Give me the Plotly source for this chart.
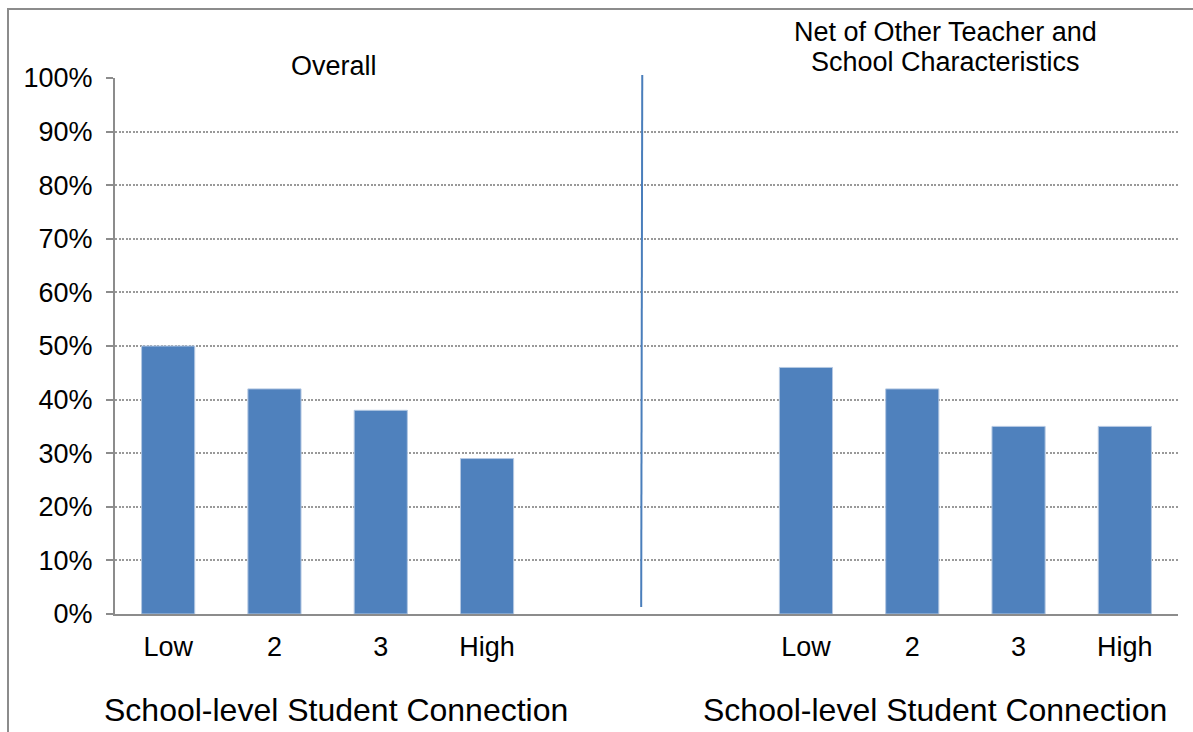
import plotly.graph_objects as go

# Share of teachers, by school-level student connection quartile
levels = ["Low", "2", "3", "High"]
overall = [50, 42, 38, 29]
net_of_other = [46, 42, 35, 35]

overall_title = "Overall"
net_title_lines = ["Net of Other Teacher and", "School Characteristics"]
axis_title = "School-level Student Connection"

y_ticks = list(range(0, 101, 10))
y_tick_text = [f"{v}%" for v in y_ticks]

# slot positions along the category axis: two panels of four, two empty slots between
left_slots = list(range(len(levels)))
right_start = len(levels) + 2
right_slots = [right_start + i for i in range(len(levels))]
n_slots = right_start + len(levels)

bar_color = "#4F81BD"
grid_color = "#8C8C8C"
font_family = "Liberation Sans, Arial, sans-serif"

fig = go.Figure()
for xs, ys in ((left_slots, overall), (right_slots, net_of_other)):
    fig.add_trace(go.Bar(
        x=xs, y=ys, width=0.5,
        marker=dict(color=bar_color, line=dict(color="#B4C8E2", width=1)),
        showlegend=False, hoverinfo="skip",
    ))

# plot-area geometry in pixels (used to place text in paper coordinates)
W, H = 1193, 732
L, R, T, B = 115, 15, 78, 118
pw, ph = W - L - R, H - T - B


def px_x(px):
    return (px - L) / pw


def px_y(py):
    return (H - B - py) / ph


fig.update_layout(
    width=W, height=H,
    margin=dict(l=L, r=R, t=T, b=B),
    paper_bgcolor="white", plot_bgcolor="white",
    font=dict(family=font_family, size=27, color="black"),
    xaxis=dict(
        range=[-0.5, n_slots - 0.5],
        tickvals=left_slots + right_slots,
        ticktext=levels + levels,
        ticks="", showgrid=False, zeroline=False,
        showline=True, linecolor=grid_color, linewidth=2,
        ticklabelstandoff=8,
        tickfont=dict(size=27),
    ),
    yaxis=dict(
        range=[0, 100],
        tickvals=y_ticks, ticktext=y_tick_text,
        ticks="outside", ticklen=7, tickcolor=grid_color, tickwidth=2,
        showline=True, linecolor=grid_color, linewidth=2,
        showgrid=True, gridcolor="#999999", gridwidth=1.5, griddash="2px,1.5px",
        zeroline=False,
        ticklabelstandoff=8,
        tickfont=dict(size=27),
    ),
    bargap=0.5,
)

# panel titles
fig.add_annotation(text=overall_title, xref="paper", yref="paper",
                   x=px_x(334), y=px_y(66), showarrow=False,
                   font=dict(size=27), xanchor="center", yanchor="middle")
for line, cy in zip(net_title_lines, (32, 62)):
    fig.add_annotation(text=line, xref="paper", yref="paper",
                       x=px_x(945), y=px_y(cy), showarrow=False,
                       font=dict(size=27), xanchor="center", yanchor="middle")

# axis titles under each panel
for cx in (336, 935):
    fig.add_annotation(text=axis_title, xref="paper", yref="paper",
                       x=px_x(cx), y=px_y(710), showarrow=False,
                       font=dict(size=32), xanchor="center", yanchor="middle")

# vertical divider between the two panels
div_x = (left_slots[-1] + right_slots[0]) / 2 - 0.05
fig.add_shape(type="line", xref="x", yref="paper",
              x0=div_x, x1=div_x + 0.01, y0=px_y(607), y1=px_y(75),
              line=dict(color="#4A7EBB", width=2))

# outer frame
fig.add_shape(type="rect", xref="paper", yref="paper",
              x0=px_x(8), x1=px_x(1260), y0=px_y(800), y1=px_y(9),
              line=dict(color="#8C8C8C", width=2), fillcolor="rgba(0,0,0,0)",
              layer="below")

fig.write_html("out.html")
